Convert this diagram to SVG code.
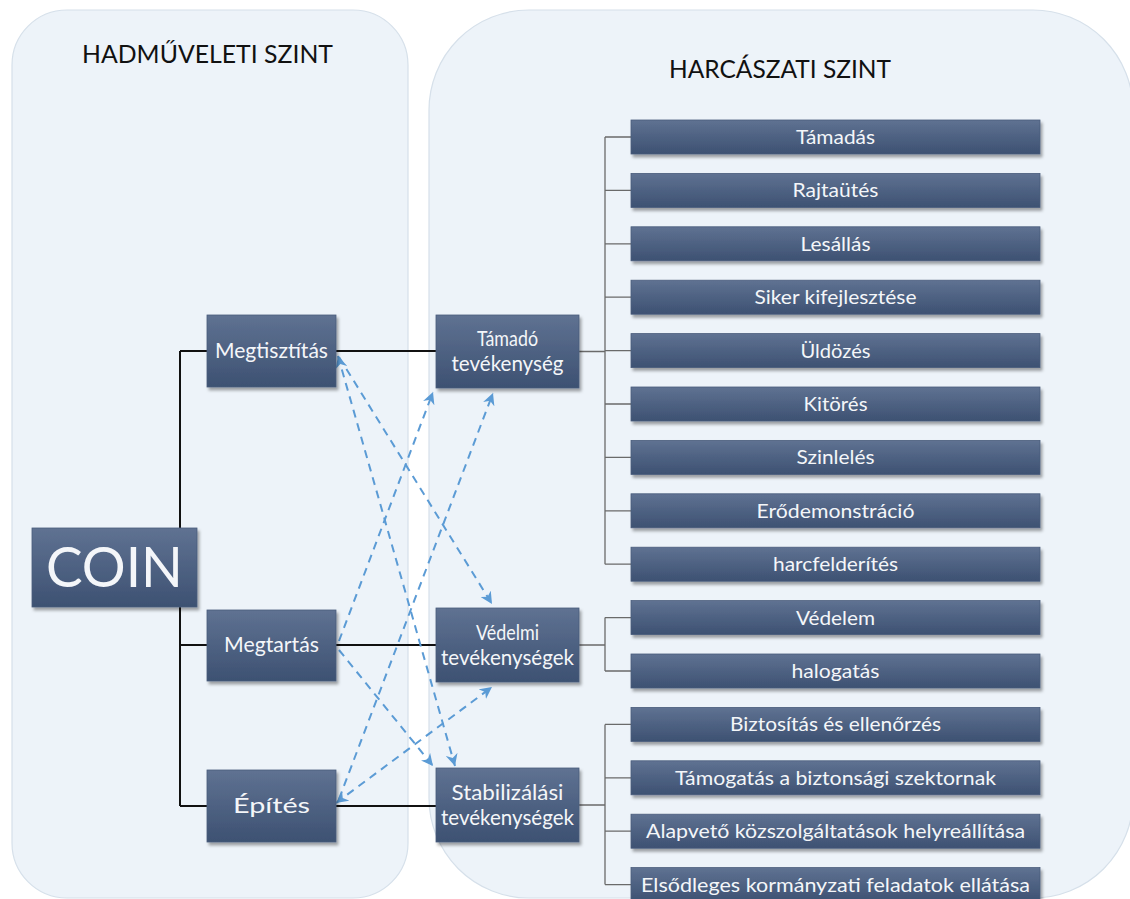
<svg xmlns="http://www.w3.org/2000/svg" width="1130" height="899" viewBox="0 0 1130 899">
<defs>
  <linearGradient id="boxg" x1="0" y1="0" x2="0" y2="1">
    <stop offset="0" stop-color="#5f7292"/>
    <stop offset="1" stop-color="#3d5172"/>
  </linearGradient>
  <filter id="sh" x="-10%" y="-20%" width="130%" height="160%">
    <feDropShadow dx="2" dy="3" stdDeviation="1.8" flood-color="#000" flood-opacity="0.35"/>
  </filter>
  <marker id="ah" viewBox="0 0 10 10" refX="10" refY="5" markerWidth="12" markerHeight="12" markerUnits="userSpaceOnUse" orient="auto-start-reverse">
    <path d="M0,0 L10,5 L0,10 L3,5 z" fill="#5b9bd5"/>
  </marker>
  <style>
    .panel{fill:#edf3f9;stroke:#d6e0ea;stroke-width:1.2}
    .box{fill:url(#boxg);stroke:#4a5d7c;stroke-width:0.8;filter:url(#sh)}
    .t{font-family:Lato,"Liberation Sans",sans-serif;fill:#f4f6f9;text-anchor:middle}
    .s{font-size:20px}
    .m{font-size:22px}
    .title{font-family:Lato,"Liberation Sans",sans-serif;font-size:25px;fill:#111}
    .solid{stroke:#111;stroke-width:2;fill:none}
    .tree{stroke:#6a6a6a;stroke-width:1.3;fill:none}
    .dash{stroke:#5b9bd5;stroke-width:2;stroke-dasharray:8 6;fill:none}
  </style>
</defs>
<rect width="1130" height="899" fill="#ffffff"/>
<g id="panels">
  <rect class="panel" x="12" y="10" width="396" height="888" rx="55" ry="55"/>
  <rect class="panel" x="429" y="10" width="704" height="888" rx="100" ry="100"/>
</g>
<g id="titles">
  <text class="title" x="82" y="63" textLength="251" lengthAdjust="spacingAndGlyphs">HADMŰVELETI SZINT</text>
  <text class="title" x="669" y="78" textLength="222" lengthAdjust="spacingAndGlyphs">HARCÁSZATI SZINT</text>
</g>
<g id="connectors">
  <path class="solid" d="M180,351 V806 M180,351 H207 M180,645 H207 M180,806 H207"/>
  <path class="solid" d="M336,351 H436 M336,645 H436 M336,806 H436"/>
  <path class="tree" d="M605,137 V564.2 M579,351.5 H605 M605,137 H631 M605,190.4 H631 M605,243.8 H631 M605,297.2 H631 M605,350.6 H631 M605,404 H631 M605,457.4 H631 M605,510.8 H631 M605,564.2 H631"/>
  <path class="tree" d="M605,617.6 V671 M579,645 H605 M605,617.6 H631 M605,671 H631"/>
  <path class="tree" d="M605,724.4 V884.6 M579,805 H605 M605,724.4 H631 M605,777.8 H631 M605,831.2 H631 M605,884.6 H631"/>
  <line class="dash" x1="339" y1="357" x2="492" y2="604" marker-end="url(#ah)"/>
  <line class="dash" x1="338" y1="356" x2="455" y2="766" marker-start="url(#ah)" marker-end="url(#ah)"/>
  <line class="dash" x1="339" y1="641" x2="433" y2="392" marker-end="url(#ah)"/>
  <line class="dash" x1="339" y1="650" x2="433" y2="766" marker-end="url(#ah)"/>
  <line class="dash" x1="339" y1="799" x2="493" y2="393" marker-end="url(#ah)"/>
  <line class="dash" x1="336" y1="803" x2="492" y2="687" marker-start="url(#ah)" marker-end="url(#ah)"/>
</g>
<g id="coin">
  <rect class="box" x="32" y="528" width="165" height="79"/>
  <text class="t" x="114.5" y="587" font-size="57" textLength="137" lengthAdjust="spacingAndGlyphs">COIN</text>
</g>
<g id="megtisztitas">
  <rect class="box" x="207" y="315" width="129" height="72"/>
  <text class="t m" x="271.5" y="358" textLength="113" lengthAdjust="spacingAndGlyphs">Megtisztítás</text>
</g>
<g id="megtartas">
  <rect class="box" x="207" y="610" width="129" height="71"/>
  <text class="t m" x="271.5" y="652" textLength="95" lengthAdjust="spacingAndGlyphs">Megtartás</text>
</g>
<g id="epites">
  <rect class="box" x="207" y="770" width="129" height="72"/>
  <text class="t m" x="271.5" y="813" textLength="77" lengthAdjust="spacingAndGlyphs">Építés</text>
</g>
<g id="tamado">
  <rect class="box" x="436" y="315" width="143" height="73"/>
  <text class="t m" x="507.5" y="346" textLength="61" lengthAdjust="spacingAndGlyphs">Támadó</text>
  <text class="t m" x="507.5" y="371" textLength="112" lengthAdjust="spacingAndGlyphs">tevékenység</text>
</g>
<g id="vedelmi">
  <rect class="box" x="436" y="608" width="143" height="74"/>
  <text class="t m" x="507.5" y="640" textLength="63" lengthAdjust="spacingAndGlyphs">Védelmi</text>
  <text class="t m" x="507.5" y="665" textLength="133" lengthAdjust="spacingAndGlyphs">tevékenységek</text>
</g>
<g id="stabilizalasi">
  <rect class="box" x="436" y="768" width="143" height="74"/>
  <text class="t m" x="507.5" y="800" textLength="112" lengthAdjust="spacingAndGlyphs">Stabilizálási</text>
  <text class="t m" x="507.5" y="825" textLength="133" lengthAdjust="spacingAndGlyphs">tevékenységek</text>
</g>
<g id="tamadas"><rect class="box" x="631" y="120" width="409" height="34"/><text class="t s" x="835.5" y="144" textLength="79" lengthAdjust="spacingAndGlyphs">Támadás</text></g>
<g id="rajtautes"><rect class="box" x="631" y="173.4" width="409" height="34"/><text class="t s" x="835.5" y="197.4" textLength="86" lengthAdjust="spacingAndGlyphs">Rajtaütés</text></g>
<g id="lesallas"><rect class="box" x="631" y="226.8" width="409" height="34"/><text class="t s" x="835.5" y="250.8" textLength="70" lengthAdjust="spacingAndGlyphs">Lesállás</text></g>
<g id="siker"><rect class="box" x="631" y="280.2" width="409" height="34"/><text class="t s" x="835.5" y="304.2" textLength="162" lengthAdjust="spacingAndGlyphs">Siker kifejlesztése</text></g>
<g id="uldozes"><rect class="box" x="631" y="333.6" width="409" height="34"/><text class="t s" x="835.5" y="357.6" textLength="70" lengthAdjust="spacingAndGlyphs">Üldözés</text></g>
<g id="kitores"><rect class="box" x="631" y="387" width="409" height="34"/><text class="t s" x="835.5" y="411" textLength="64" lengthAdjust="spacingAndGlyphs">Kitörés</text></g>
<g id="szinleles"><rect class="box" x="631" y="440.4" width="409" height="34"/><text class="t s" x="835.5" y="464.4" textLength="78" lengthAdjust="spacingAndGlyphs">Szinlelés</text></g>
<g id="erodemonstracio"><rect class="box" x="631" y="493.8" width="409" height="34"/><text class="t s" x="835.5" y="517.8" textLength="158" lengthAdjust="spacingAndGlyphs">Erődemonstráció</text></g>
<g id="harcfelderites"><rect class="box" x="631" y="547.2" width="409" height="34"/><text class="t s" x="835.5" y="571.2" textLength="125" lengthAdjust="spacingAndGlyphs">harcfelderítés</text></g>
<g id="vedelem"><rect class="box" x="631" y="600.6" width="409" height="34"/><text class="t s" x="835.5" y="624.6" textLength="79" lengthAdjust="spacingAndGlyphs">Védelem</text></g>
<g id="halogatas"><rect class="box" x="631" y="654" width="409" height="34"/><text class="t s" x="835.5" y="678" textLength="88" lengthAdjust="spacingAndGlyphs">halogatás</text></g>
<g id="biztositas"><rect class="box" x="631" y="707.4" width="409" height="34"/><text class="t s" x="835.5" y="731.4" textLength="211" lengthAdjust="spacingAndGlyphs">Biztosítás és ellenőrzés</text></g>
<g id="tamogatas"><rect class="box" x="631" y="760.8" width="409" height="34"/><text class="t s" x="835.5" y="784.8" textLength="321" lengthAdjust="spacingAndGlyphs">Támogatás a biztonsági szektornak</text></g>
<g id="alapveto"><rect class="box" x="631" y="814.2" width="409" height="34"/><text class="t s" x="835.5" y="838.2" textLength="379" lengthAdjust="spacingAndGlyphs">Alapvető közszolgáltatások helyreállítása</text></g>
<g id="elsodleges"><rect class="box" x="631" y="867.6" width="409" height="34"/><text class="t s" x="835.5" y="891.6" textLength="389" lengthAdjust="spacingAndGlyphs">Elsődleges kormányzati feladatok ellátása</text></g>
</svg>
